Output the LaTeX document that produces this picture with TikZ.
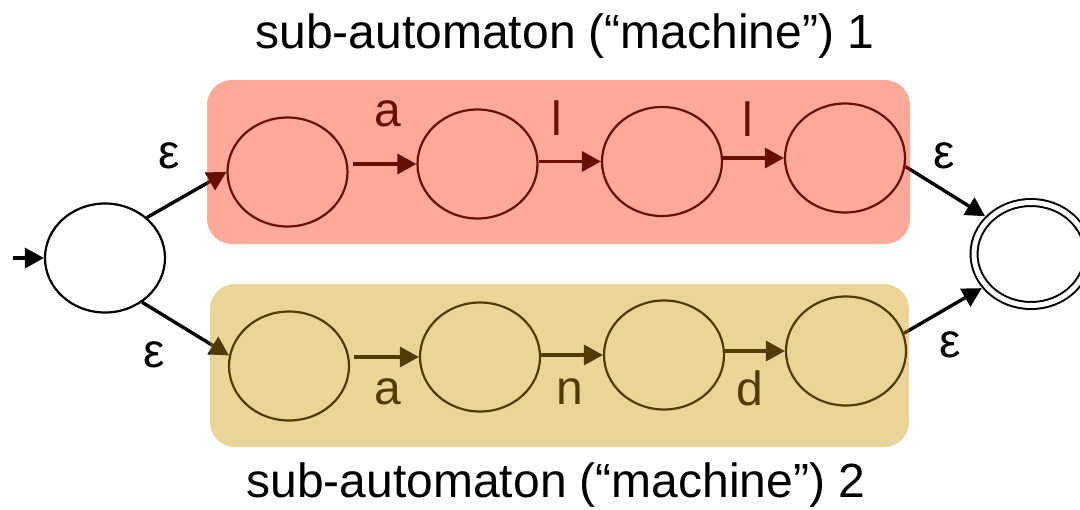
\documentclass[tikz,border=0pt]{standalone}
\usepackage{fontspec}
\setmainfont{Liberation Sans}
\usepackage{tikz}
\usetikzlibrary{arrows.meta,shapes.geometric}
\definecolor{machA}{RGB}{255,42,0}
\definecolor{machB}{RGB}{200,150,0}
\tikzstyle{st}=[ellipse, draw, line width=1.1pt, minimum width=60pt, minimum height=54.5pt, inner sep=0pt]
\tikzstyle{acc}=[ellipse, draw, line width=1pt, double, double distance=2.5pt, minimum width=57pt, minimum height=51.5pt, inner sep=0pt]
\tikzstyle{trans}=[line width=1.7pt, -{Triangle[length=9.5pt,width=10pt]}]
\tikzstyle{lbl}=[font=\fontsize{24}{28}\selectfont, inner sep=0pt]
\tikzstyle{boxA}=[fill=machA, fill opacity=.4, rounded corners=12.5pt]
\tikzstyle{boxB}=[fill=machB, fill opacity=.4, rounded corners=12.5pt]

\begin{document}
\begin{tikzpicture}[x=0.5pt, y=-0.5pt]
	\useasboundingbox (0,0) rectangle (1080,509);
	\node[lbl, anchor=base] (titleA) at (565,48) {sub-automaton (“machine”) 1};
	\node[lbl, anchor=base] (titleB) at (556,497) {sub-automaton (“machine”) 2};
	\node[st, fill=white] (start) at (105,258) {};
	\node[st] (q1) at (287.5,172) {};
	\node[st] (q2) at (477.5,164) {};
	\node[st] (q3) at (662,161.5) {};
	\node[st] (q4) at (845,158) {};
	\node[st] (p1) at (289,366) {};
	\node[st] (p2) at (480,357) {};
	\node[st] (p3) at (664,355) {};
	\node[st] (p4) at (846,351) {};
	\node[acc] (final) at (1031,254) {};
	\coordinate (init) at (13,258);
	\draw[trans] (init) -- (start);
	\draw[trans] (start.44) -- (q1.west);
	\draw[trans] (start.-50) -- (p1.170);
	\draw[trans, shorten <=2pt] (q1.east |- q2) -- (q2);
	\draw[trans] (q2.east |- q3) -- (q3);
	\draw[trans] (q3.east |- q4) -- (q4);
	\draw[trans, shorten <=2pt] (p1.east |- p2) -- (p2);
	\draw[trans] (p2.east |- p3) -- (p3);
	\draw[trans] (p3.east |- p4) -- (p4);
	\draw[trans, shorten >=2pt] (q4.-8) -- (final.140);
	\draw[trans, shorten >=2pt] (p4.17) -- (final.-145);
	\node[lbl] (la1) at (388,114) {a};
	\node[lbl] (ll1) at (557,118) {l};
	\node[lbl] (ll2) at (748,119) {l};
	\node[lbl] (la2) at (388,392) {a};
	\node[lbl] (ln) at (570,392) {n};
	\node[lbl] (ld) at (750,388) {d};
	\node[lbl] (e1) at (169,156) {ε};
	\node[lbl] (e2) at (154,355) {ε};
	\node[lbl] (e3) at (944,156) {ε};
	\node[lbl] (e4) at (950,345) {ε};
	\fill[boxA] (207,80) rectangle (910,244);
	\fill[boxB] (210,284) rectangle (909,447);
\end{tikzpicture}
\end{document}
